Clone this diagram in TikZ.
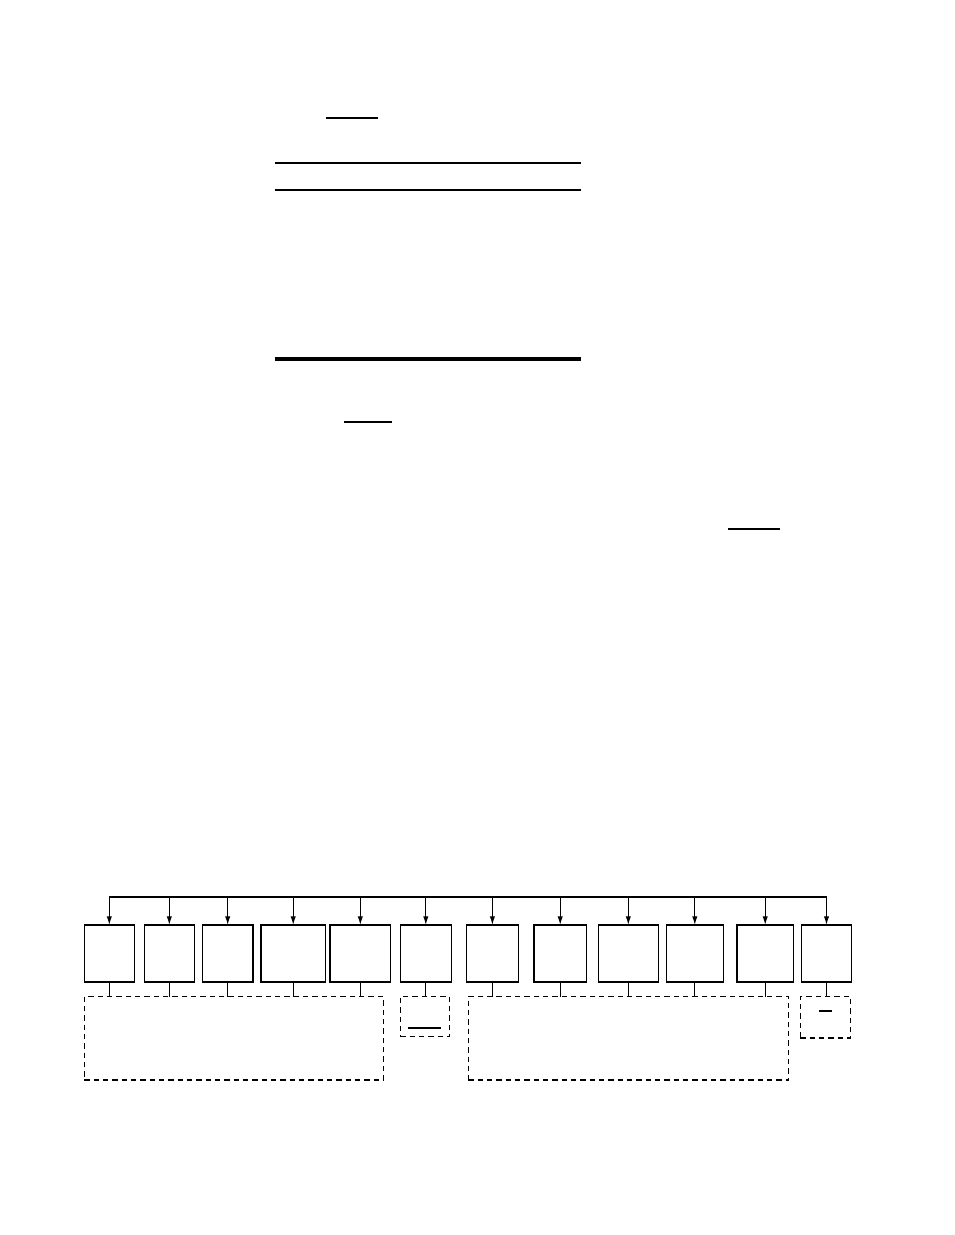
\documentclass[tikz,border=0pt]{standalone}
\usepackage{tikz}
\usepackage{amsmath}
\usetikzlibrary{arrows.meta}

\begin{document}
\begin{tikzpicture}[x=0.75pt,y=-0.75pt,
    unitbox/.style={draw, line width=0.9pt, rectangle, inner sep=0pt, outer sep=0pt, minimum height=57*0.75pt},
    groupbox/.style={draw, line width=0.9pt, dash pattern=on 4pt off 3pt, rectangle, inner sep=0pt, outer sep=0pt},
    feed/.style={-{Latex[length=6.5pt,width=4pt]}, line width=0.9pt}]
            \useasboundingbox (0,0) rectangle (954,1235);
            % upper part
            \draw[line width=1.4pt] (326,118) -- (378,118);
            \draw[line width=2pt] (275,163) -- (581,163);
            \draw[line width=0.9pt] (275,190) -- (581,190);
            \draw[line width=2.6pt] (275,359) -- (581,359);
            \draw[line width=1.4pt] (344,422) -- (392,422);
            \draw[line width=1.4pt] (728,529) -- (780,529);
            % units
            \foreach \n/\x/\w in {1/109.3/50, 2/169.3/50, 3/227.7/50.7, 4/293.2/64.3, 5/360.3/60.7, 6/425.8/51,
                                  7/492.4/52.5, 8/560.2/52.3, 9/628.3/60, 10/694.8/57, 11/765.2/56.3, 12/826.5/50.4}
                \node[unitbox, minimum width=\w*0.75pt] (u\n) at (\x,953.5) {};
            \coordinate (bus) at (0,897);
            \draw[line width=0.9pt] (u1.north |- bus) -- (u12.north |- bus);
            \foreach \n in {1,...,12}
                \draw[feed] (u\n.north |- bus) -- (u\n.north);
            % groups
            \node[groupbox, minimum width=299*0.75pt, minimum height=83.3*0.75pt] (gA) at (233.8,1038.3) {};
            \node[groupbox, minimum width=49.4*0.75pt, minimum height=40*0.75pt] (gB) at (425,1016.7) {};
            \node[groupbox, minimum width=320.4*0.75pt, minimum height=83.3*0.75pt] (gC) at (628.5,1038.3) {};
            \node[groupbox, minimum width=50.4*0.75pt, minimum height=41.3*0.75pt] (gD) at (825.5,1017.3) {};
            \foreach \n in {1,...,5}
                \draw[line width=0.9pt] (u\n.south) -- (u\n.south |- gA.north);
            \foreach \n in {7,...,11}
                \draw[line width=0.9pt] (u\n.south) -- (u\n.south |- gC.north);
            \draw[line width=0.9pt] (u6.south) -- (gB.north -| u6.south);
            \draw[line width=0.9pt] (u12.south) -- (gD.north -| u12.south);
            \draw[line width=0.9pt] (408,1028) -- (440.7,1028);
            \draw[line width=0.9pt] (819,1011) -- (831.7,1011);
        \end{tikzpicture}
\end{document}
